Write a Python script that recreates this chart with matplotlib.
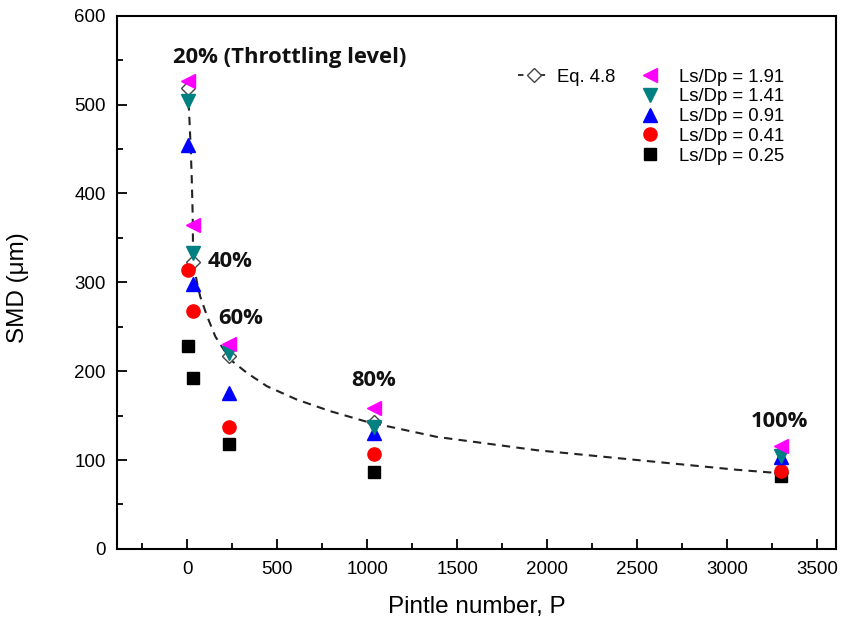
import matplotlib
matplotlib.use("Agg")
import matplotlib.pyplot as plt
from matplotlib.ticker import MultipleLocator
from matplotlib.lines import Line2D

# Pintle number for each throttling level
pintle = [2, 30, 233, 1040, 3300]

# SMD (um) for each Ls/Dp ratio
smd_191 = [526, 365, 231, 158, 116]
smd_141 = [504, 333, 220, 137, 104]
smd_091 = [454, 298, 175, 130, 103]
smd_041 = [314, 268, 137, 107, 88]
smd_025 = [228, 192, 118, 87, 82]

# Eq. 4.8 prediction points and curve
eq_points = [519, 323, 217, 143, 85]
eq_curve_p = [2, 7, 13, 19, 25, 30, 33, 54, 72, 110, 156, 239, 332, 443,
              609, 794, 998, 1387, 1943, 2498, 3054, 3300]
eq_curve_v = [519, 505, 480, 452, 418, 378, 323, 300, 284, 262, 239, 213,
              198, 183, 168, 155, 143, 126, 111, 100, 89, 85]

levels = ["20% (Throttling level)", "40%", "60%", "80%", "100%"]
label_pos = [(-78, 553), (111, 323), (172, 259), (911, 190), (3133, 143)]

plt.rcParams["font.family"] = ["Liberation Sans", "DejaVu Sans"]

fig = plt.figure(figsize=(8.42, 6.28), dpi=100)
ax = fig.add_axes([0.139, 0.126, 0.854, 0.849])

ax.plot(eq_curve_p, eq_curve_v, ls=(0, (4, 3)), color="#222222", lw=1.5, zorder=2)

ax.plot(pintle, eq_points, ls="none", marker="D", ms=7, mfc="white",
        mec="#444444", mew=1.0, zorder=2.5)
ax.plot(pintle, smd_025, ls="none", marker="s", ms=8, color="black", zorder=3)
ax.plot(pintle, smd_041, ls="none", marker="o", ms=9.5, color="#ff0000", zorder=3)
ax.plot(pintle, smd_091, ls="none", marker="^", ms=10, color="#0000ff", zorder=3)
ax.plot(pintle, smd_141, ls="none", marker="v", ms=10, color="#008080", zorder=4)
ax.plot(pintle, smd_191, ls="none", marker="<", ms=10, color="#ff00ff", zorder=5)

for txt, (px, py) in zip(levels, label_pos):
    ax.text(px, py, txt, fontsize=15.8, fontweight="bold", family=["Open Sans", "DejaVu Sans"],
            ha="left", va="center", color="#111111")

ax.set_xlim(-390, 3605)
ax.set_ylim(0, 600)
ax.xaxis.set_major_locator(MultipleLocator(500))
ax.xaxis.set_minor_locator(MultipleLocator(250))
ax.yaxis.set_major_locator(MultipleLocator(100))
ax.yaxis.set_minor_locator(MultipleLocator(50))
ax.tick_params(which="both", direction="in", top=False, right=False,
               labelsize=13.5, width=1.3)
ax.tick_params(axis="x", pad=9)
ax.tick_params(axis="y", pad=8)
ax.tick_params(which="major", length=7)
ax.tick_params(which="minor", length=4)
for s in ax.spines.values():
    s.set_linewidth(1.5)

ax.set_xlabel("Pintle number, P", fontsize=17.5, va="center")
ax.set_ylabel("SMD (\u03bcm)", fontsize=17.5, va="center")
ax.xaxis.set_label_coords(0.5, -0.109)
ax.yaxis.set_label_coords(-0.138, 0.49)

h_eq = Line2D([], [], ls=(0, (3, 3)), color="#222222", lw=1.3, marker="D", ms=7,
              mfc="white", mec="#444444")
leg1 = ax.legend([h_eq], ["Eq. 4.8"], loc="upper left", bbox_to_anchor=(0.54, 0.925),
                 frameon=False, fontsize=13.3, handlelength=1.7, handletextpad=0.4,
                 borderpad=0.2)
ax.add_artist(leg1)

handles = [
    Line2D([], [], ls="none", marker="<", ms=10, color="#ff00ff"),
    Line2D([], [], ls="none", marker="v", ms=10, color="#008080"),
    Line2D([], [], ls="none", marker="^", ms=10, color="#0000ff"),
    Line2D([], [], ls="none", marker="o", ms=9.5, color="#ff0000"),
    Line2D([], [], ls="none", marker="s", ms=8, color="black"),
]
names = ["Ls/Dp = 1.91", "Ls/Dp = 1.41", "Ls/Dp = 0.91", "Ls/Dp = 0.41", "Ls/Dp = 0.25"]
ax.legend(handles, names, loc="upper left", bbox_to_anchor=(0.71, 0.925),
          frameon=False, fontsize=13.3, handlelength=1.0, handletextpad=1.07,
          labelspacing=0.15, borderpad=0.2)

fig.savefig("out.png", dpi=100)
